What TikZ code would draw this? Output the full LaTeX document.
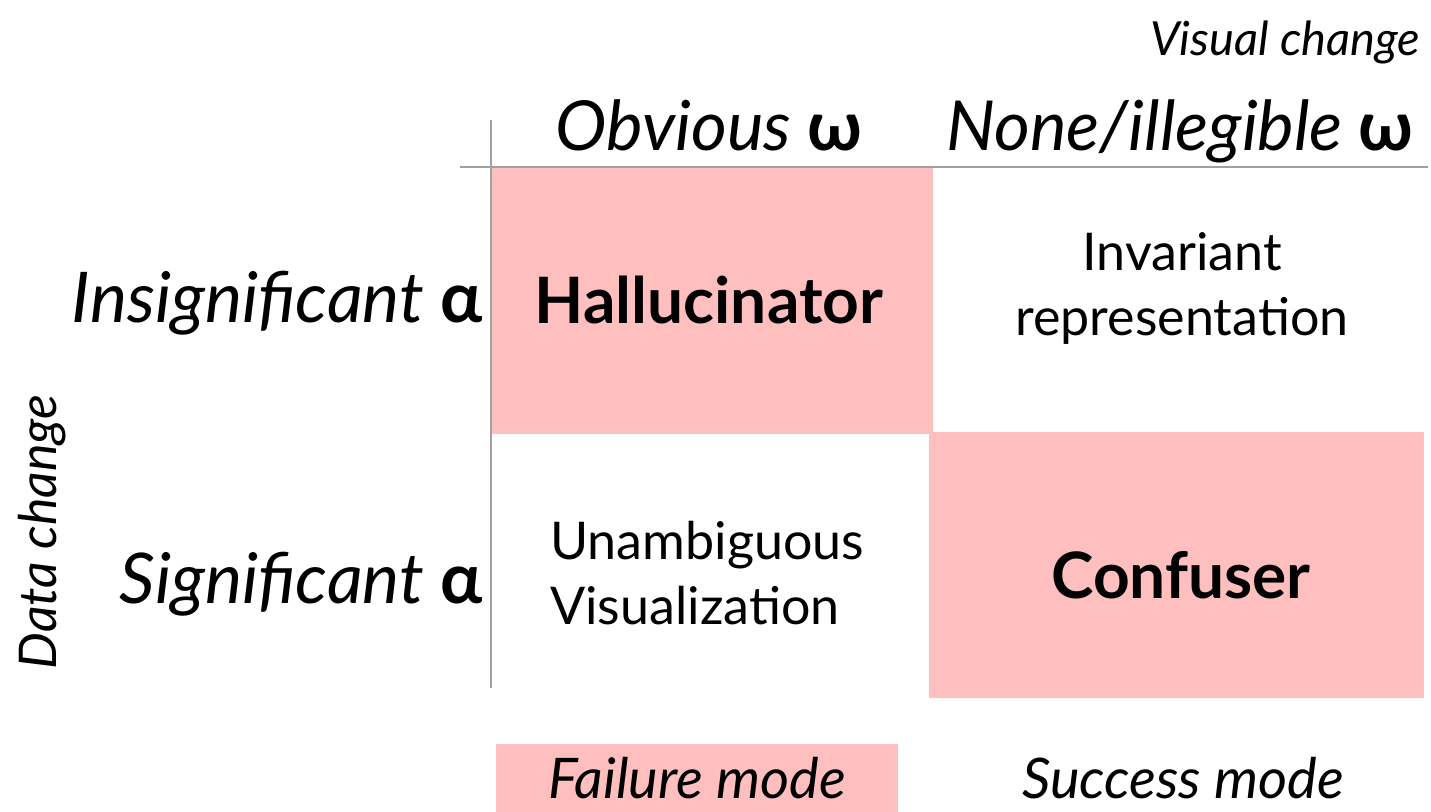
\documentclass[tikz,border=0pt]{standalone}
\usepackage{fontspec}
\setmainfont{Lato}
\definecolor{failpink}{HTML}{FFBFBF}
\definecolor{axisgray}{HTML}{A0A0A0}
\tikzset{
  cellbox/.style={fill=failpink, draw=none, inner sep=0pt, anchor=north west},
  axisline/.style={draw=axisgray, line width=2pt},
  head/.style={font=\fontsize{69}{80}\selectfont\itshape, anchor=base, inner sep=0pt},
  rowhead/.style={font=\fontsize{70}{80}\selectfont\itshape, anchor=base east, inner sep=0pt},
  small/.style={font=\fontsize{47}{56}\selectfont\itshape, inner sep=0pt},
  legend/.style={font=\fontsize{56}{66}\selectfont\itshape, anchor=base, inner sep=0pt},
  bigword/.style={font=\fontsize{64}{72}\selectfont\bfseries, anchor=base, inner sep=0pt},
  plain/.style={font=\fontsize{52}{65}\selectfont, align=center, inner sep=0pt},
}
\newcommand{\grk}[1]{{\normalfont\bfseries #1}}
\begin{document}
\begin{tikzpicture}[x=1pt,y=-1pt]
\useasboundingbox (0,0) rectangle (1431,811);
% pink cells
\node[cellbox, minimum width=442pt, minimum height=267pt] (halbox) at (491,167) {};
\node[cellbox, minimum width=495pt, minimum height=266pt] (conbox) at (929,432) {};
\node[cellbox, minimum width=402pt, minimum height=68pt] (failbox) at (496,744) {};
% axes
\coordinate (vtop) at (491,120);
\coordinate (vbot) at (491,688);
\coordinate (hl) at (460,167);
\coordinate (hr) at (1428,167);
\draw[axisline] (vtop) -- (vbot);
\draw[axisline] (hl) -- (hr);
% headers
\node[small, anchor=base east] (vis) at (1420,55) {Visual change};
\node[head] (obv) at (709,150) {Obvious \grk{ω}};
\node[head] (none) at (1180,150) {None/illegible \grk{ω}};
\node[rowhead] (insig) at (483,322) {Insignificant \grk{α}};
\node[rowhead] (sig) at (483,603) {Significant \grk{α}};
\node[small, rotate=90, anchor=center, font=\fontsize{52}{60}\selectfont\itshape] (data) at (42,532) {Data change};
% cells
\node[bigword] (hal) at (709,323) {Hallucinator};
\node[plain] (inv) at (1182,288) {Invariant\\representation};
\node[plain, align=left, anchor=west] (una) at (550,573) {Unambiguous\\Visualization};
\node[bigword] (con) at (1181,598) {Confuser};
% legend
\node[legend] (fail) at (697,798) {Failure mode};
\node[legend] (succ) at (1183,798) {Success mode};
\end{tikzpicture}
\end{document}
